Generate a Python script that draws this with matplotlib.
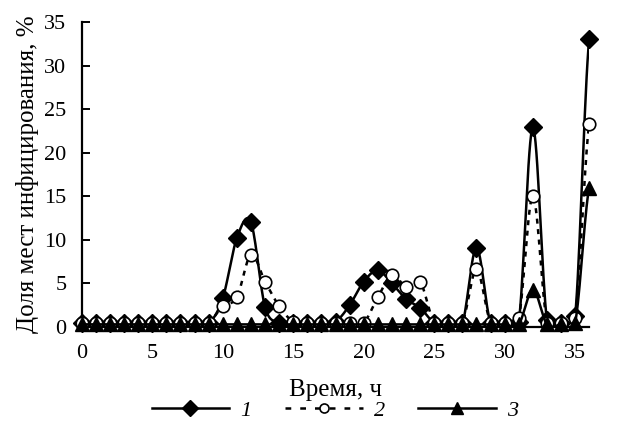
import numpy as np
import matplotlib
matplotlib.use('Agg')
import matplotlib.pyplot as plt
from matplotlib.lines import Line2D

plt.rcParams['font.family'] = ['Liberation Serif', 'DejaVu Serif']

# часы наблюдения
hours = list(range(37))

# 1 - ромбы
series1 = [0.4, 0.4, 0.4, 0.4, 0.4, 0.4, 0.4, 0.4, 0.4, 0.4,
           3.3, 10.2, 12.0, 2.3, 0.5, 0.4, 0.4, 0.4, 0.6, 2.5,
           5.2, 6.5, 5.0, 3.2, 2.2, 0.5, 0.4, 0.4, 9.1, 0.4,
           0.4, 0.6, 22.9, 0.8, 0.5, 1.3, 33.1]
# 2 - кружки
series2 = [0.5, 0.5, 0.5, 0.5, 0.5, 0.5, 0.5, 0.5, 0.5, 0.5,
           2.4, 3.4, 8.3, 5.2, 2.4, 0.6, 0.5, 0.5, 0.5, 0.5,
           0.5, 3.4, 6.0, 4.6, 5.2, 0.5, 0.5, 0.5, 6.6, 0.5,
           0.5, 1.0, 15.0, 0.5, 0.5, 1.0, 23.3]
# 3 - треугольники
series3 = [0.3, 0.3, 0.3, 0.3, 0.3, 0.3, 0.3, 0.3, 0.3, 0.3,
           0.3, 0.3, 0.3, 0.3, 0.3, 0.3, 0.3, 0.3, 0.3, 0.3,
           0.3, 0.3, 0.3, 0.3, 0.3, 0.3, 0.3, 0.3, 0.3, 0.3,
           0.3, 0.3, 4.3, 0.3, 0.3, 0.5, 16.0]

xticks = [0, 5, 10, 15, 20, 25, 30, 35]
yticks = [0, 5, 10, 15, 20, 25, 30, 35]


def smooth(x, y, n=16):
	# сглаживание как в Excel (Catmull-Rom)
	x = np.asarray(x, float)
	y = np.asarray(y, float)
	px = np.concatenate([[2 * x[0] - x[1]], x, [2 * x[-1] - x[-2]]])
	py = np.concatenate([[y[0]], y, [y[-1]]])
	t = np.linspace(0, 1, n, endpoint=False)
	xs, ys = [], []
	for i in range(1, len(px) - 2):
		for arr, out in ((px, xs), (py, ys)):
			p0, p1, p2, p3 = arr[i - 1], arr[i], arr[i + 1], arr[i + 2]
			out.extend(0.5 * (2 * p1 + (-p0 + p2) * t
			                  + (2 * p0 - 5 * p1 + 4 * p2 - p3) * t ** 2
			                  + (-p0 + 3 * p1 - 3 * p2 + p3) * t ** 3))
	xs.append(x[-1])
	ys.append(y[-1])
	return np.array(xs), np.array(ys)


fig = plt.figure(figsize=(6.44, 4.23), dpi=100)
ax = fig.add_axes([0.127, 0.227, 0.788, 0.721])

lw = 1.8
sx, sy = smooth(hours, series1)
ax.plot(sx, sy, color='black', lw=lw, zorder=2)
ax.plot(hours, series1, ls='none', marker='D', ms=9.5, mfc='black', mec='black',
        clip_on=False, zorder=3)

sx, sy = smooth(hours, series2)
ax.plot(sx, sy, color='black', lw=lw, ls=(0, (2.0, 2.2)), zorder=4)
ax.plot(hours, series2, ls='none', marker='o', ms=9, mfc='white', mec='black',
        mew=1.2, clip_on=False, zorder=5)

sx, sy = smooth(hours, series3)
ax.plot(sx, sy, color='black', lw=lw, zorder=6)
ax.plot(hours, series3, ls='none', marker='^', ms=9.5, mfc='black', mec='black',
        clip_on=False, zorder=7)

ax.set_xlim(0, 36)
ax.set_ylim(0, 35)
ax.set_xticks(xticks)
ax.set_yticks(yticks)
ax.spines['top'].set_visible(False)
ax.spines['right'].set_visible(False)
ax.spines['left'].set_linewidth(1.6)
ax.spines['bottom'].set_linewidth(1.6)
ax.tick_params(direction='in', length=6, width=1.4, labelsize=16)
ax.tick_params(axis='y', pad=11)
ax.tick_params(axis='x', pad=12)

ax.set_xlabel('Время, ч', fontsize=18, labelpad=12)
ax.set_ylabel('Доля мест инфицирования, %', fontsize=18, labelpad=4)

handles = [
	Line2D([], [], color='black', lw=lw, marker='D', ms=8),
	Line2D([], [], color='black', lw=lw, ls=(0, (2.3, 3.6)), marker='o', ms=6.5,
	       mfc='white', mew=1.2),
	Line2D([], [], color='black', lw=lw, marker='^', ms=8.5),
]
leg = fig.legend(handles, ['1', '2', '3'], loc='lower center',
                 bbox_to_anchor=(0.52, -0.042), ncol=3, frameon=False,
                 handlelength=3.5, columnspacing=1.5, handletextpad=0.5,
                 prop={'size': 16, 'style': 'italic'})

fig.savefig('out.png', dpi=100)
